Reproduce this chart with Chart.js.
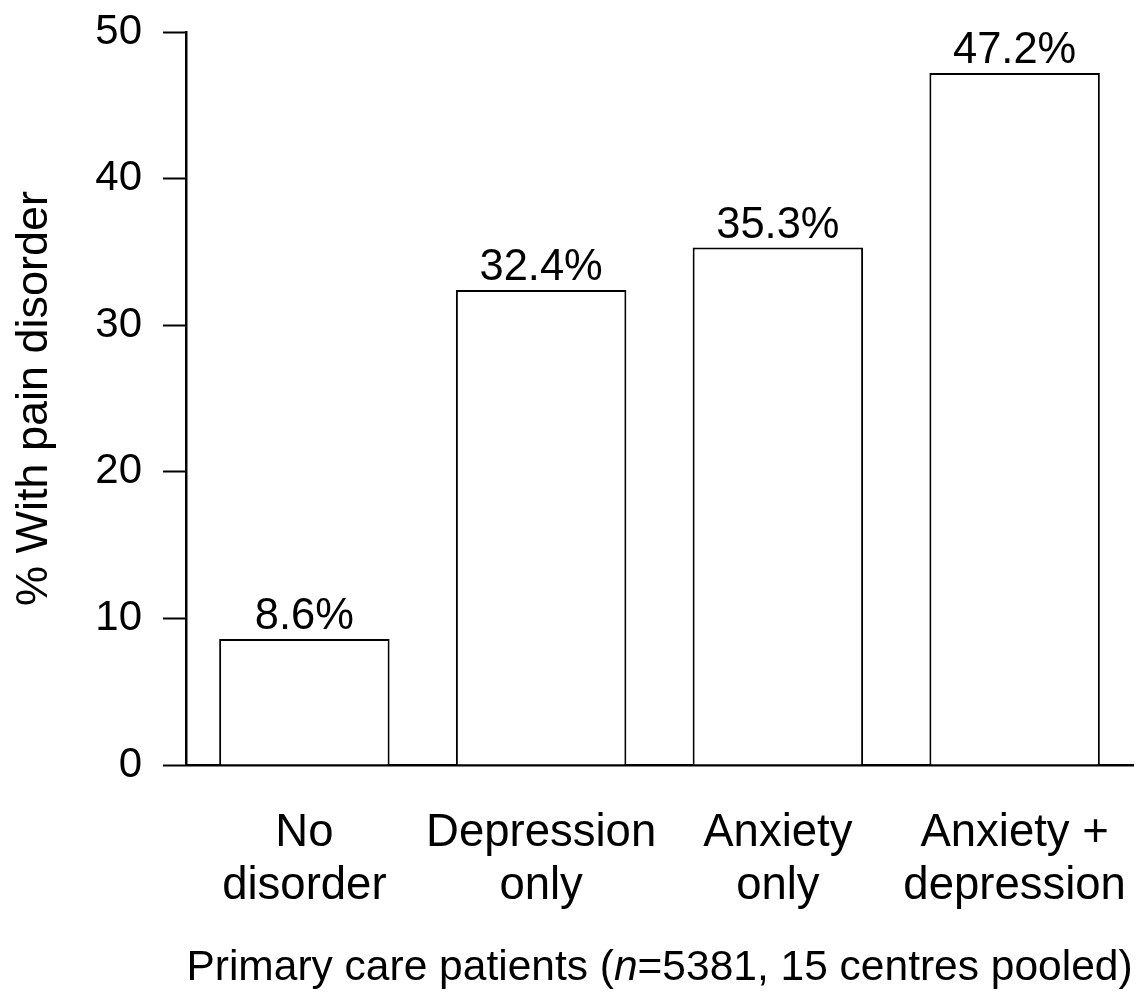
<!DOCTYPE html>
<html>
<head>
<meta charset="utf-8">
<script src="https://cdn.jsdelivr.net/npm/chart.js@4/dist/chart.umd.min.js"></script>
<style>
  html, body { margin: 0; padding: 0; background: #fff; }
  #wrap { width: 1145px; height: 993px; position: relative; }
</style>
</head>
<body>
<div id="wrap"><canvas id="c" width="1145" height="993"></canvas></div>
<script>
// Groups of primary care patients (two-line axis labels)
const categories = [
  ['No', 'disorder'],
  ['Depression', 'only'],
  ['Anxiety', 'only'],
  ['Anxiety +', 'depression']
];
// Percentage of each group with pain disorder
const painPercent = [8.6, 32.4, 35.3, 47.2];
const yMin = 0;
const yMax = 50;
const yStep = 10;
const yTitle = '% With pain disorder';
// x-axis caption in pieces so the sample-size symbol can be set in italics
const xTitleParts = [
  { text: 'Primary care patients (', italic: false },
  { text: 'n', italic: true },
  { text: '=5381, 15 centres pooled)', italic: false }
];

const FONT = '"Liberation Sans", Arial, Helvetica, sans-serif';

// Writes the value with a % sign just above each bar
const valueLabels = {
  id: 'valueLabels',
  afterDatasetsDraw(chart) {
    const ctx = chart.ctx;
    const meta = chart.getDatasetMeta(0);
    ctx.save();
    ctx.font = '43.5px ' + FONT;
    ctx.fillStyle = '#000';
    ctx.textAlign = 'center';
    ctx.textBaseline = 'alphabetic';
    meta.data.forEach((bar, i) => {
      ctx.fillText(painPercent[i].toFixed(1) + '%', bar.x, bar.y - 10);
    });
    ctx.restore();
  }
};

// Draws the x-axis caption centred under the plot, with an italic "n"
const xCaption = {
  id: 'xCaption',
  afterDraw(chart) {
    const ctx = chart.ctx;
    const area = chart.chartArea;
    const size = 42.5;
    const fontFor = (p) => (p.italic ? 'italic ' : '') + size + 'px ' + FONT;
    ctx.save();
    ctx.fillStyle = '#000';
    ctx.textBaseline = 'middle';
    ctx.textAlign = 'left';
    let total = 0;
    const widths = xTitleParts.map((p) => {
      ctx.font = fontFor(p);
      const w = ctx.measureText(p.text).width;
      total += w;
      return w;
    });
    let x = (area.left + area.right) / 2 - total / 2;
    const y = chart.height - 25;
    xTitleParts.forEach((p, i) => {
      ctx.font = fontFor(p);
      ctx.fillText(p.text, x, y);
      x += widths[i];
    });
    ctx.restore();
  }
};

new Chart(document.getElementById('c'), {
  type: 'bar',
  data: {
    labels: categories,
    datasets: [{
      data: painPercent,
      backgroundColor: '#fff',
      borderColor: '#000',
      borderWidth: 2,
      barPercentage: 0.72,
      categoryPercentage: 1.0
    }]
  },
  options: {
    responsive: false,
    animation: false,
    devicePixelRatio: 1,
    layout: { padding: { top: 32, right: 12, left: 0, bottom: 0 } },
    plugins: { legend: { display: false }, tooltip: { enabled: false } },
    scales: {
      x: {
        offset: true,
        grid: { display: false, drawTicks: false },
        border: { display: true, color: '#000', width: 2.5 },
        ticks: {
          color: '#000',
          padding: 42,
          maxRotation: 0,
          autoSkip: false,
          font: { family: FONT, size: 45.5, lineHeight: 1.17 }
        },
        title: { display: false },
        afterFit(scale) {
          scale.height = 228;
          scale.paddingLeft = 0;
          scale.paddingRight = 0;
        }
      },
      y: {
        min: yMin,
        max: yMax,
        grid: {
          drawOnChartArea: false,
          drawTicks: true,
          tickLength: 23,
          tickWidth: 2,
          tickColor: '#000'
        },
        border: { display: true, color: '#000', width: 2.5 },
        ticks: {
          stepSize: yStep,
          color: '#000',
          padding: 21,
          font: { family: FONT, size: 42 }
        },
        title: {
          display: true,
          text: yTitle,
          color: '#000',
          font: { family: FONT, size: 45, lineHeight: 1.2 },
          padding: { top: 8, bottom: 0 }
        },
        afterFit(scale) {
          scale.width = 186;
          scale.paddingTop = 0;
          scale.paddingBottom = 0;
        }
      }
    }
  },
  plugins: [valueLabels, xCaption]
});
</script>
</body>
</html>
